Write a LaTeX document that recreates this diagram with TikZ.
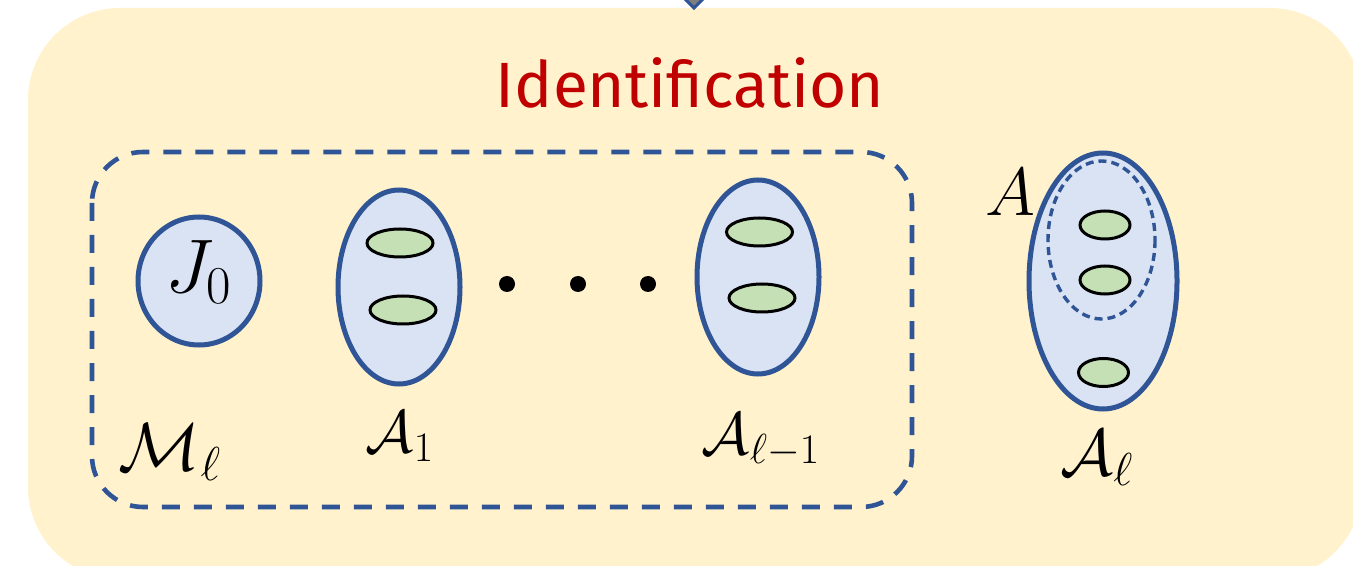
\RequirePackage{fix-cm}
\documentclass[tikz,border=0pt]{standalone}
\usepackage{fontspec}
\newfontfamily\titlefont{Fira Sans}
\definecolor{bgyellow}{HTML}{FFF2CC}
\definecolor{darkblue}{HTML}{2F5597}
\definecolor{lightblue}{HTML}{DAE3F3}
\definecolor{lightgreen}{HTML}{C5E0B4}
\definecolor{titlered}{HTML}{C00000}
\definecolor{tipgray}{HTML}{7F7F7F}
\begin{document}
\begin{tikzpicture}[x=0.5pt,y=-0.5pt,
  setbox/.style={draw=darkblue,line width=2.5pt,fill=lightblue},
  elem/.style={draw=black,line width=1.5pt,fill=lightgreen},
  dotmark/.style={fill=black},
  lbl/.style={inner sep=0pt,text=black}]
\useasboundingbox (0,0) rectangle (1353,566);
\clip (0,0) rectangle (1353,566);
% background panel
\fill[bgyellow,rounded corners=46pt] (28,8) rectangle (1362,579);
% incoming arrow tip
\filldraw[fill=tipgray,draw=darkblue,line width=1.5pt,line join=miter] (674,-12) -- (714,-12) -- (694,8) -- cycle;
% title
\node[lbl,text=titlered,font=\titlefont\fontsize{32}{36}\selectfont] (title) at (690,83) {Identification};
% dashed group
\draw[darkblue,line width=2.3pt,dash pattern=on 9pt off 7pt,rounded corners=25.5pt] (92,152) rectangle (912,507);
% J0
\draw[setbox] (199,281) ellipse [x radius=61, y radius=64];
\node[lbl,font=\fontsize{38}{42}\selectfont] (j0) at (199,272) {$J_0$};
% A1
\draw[setbox] (399,287) ellipse [x radius=61, y radius=97];
\draw[elem] (400,243) ellipse [x radius=33, y radius=14];
\draw[elem] (403,310) ellipse [x radius=33, y radius=14];
% dots
\fill[dotmark] (507,284) circle [radius=8];
\fill[dotmark] (578,284) circle [radius=8];
\fill[dotmark] (648,284) circle [radius=8];
% A_{l-1}
\draw[setbox] (758,277) ellipse [x radius=61, y radius=97];
\draw[elem] (759.5,232) ellipse [x radius=33, y radius=14];
\draw[elem] (762,298) ellipse [x radius=33, y radius=14];
% A_l
\draw[setbox] (1103,281) ellipse [x radius=74, y radius=128];
\draw[darkblue,line width=1.7pt,dash pattern=on 4pt off 2.5pt] (1101.5,240) ellipse [x radius=53.5, y radius=79];
\draw[elem] (1105,225) ellipse [x radius=25, y radius=14];
\draw[elem] (1105,280) ellipse [x radius=25, y radius=14];
\draw[elem] (1103.5,372.5) ellipse [x radius=25, y radius=14];
% labels
\node[lbl,font=\fontsize{30}{34}\selectfont] (la1) at (400,436) {$\mathcal{A}_1$};
\node[lbl,font=\fontsize{30}{34}\selectfont] (lal1) at (761,440) {$\mathcal{A}_{\ell-1}$};
\node[lbl,font=\fontsize{33}{38}\selectfont] (lal) at (1097,458) {$\mathcal{A}_{\ell}$};
\node[lbl,font=\fontsize{34}{38}\selectfont] (lm) at (170,452) {$\mathcal{M}_{\ell}$};
\node[lbl,font=\fontsize{34}{38}\selectfont] (la) at (1010,192) {$A$};
\end{tikzpicture}
\end{document}
